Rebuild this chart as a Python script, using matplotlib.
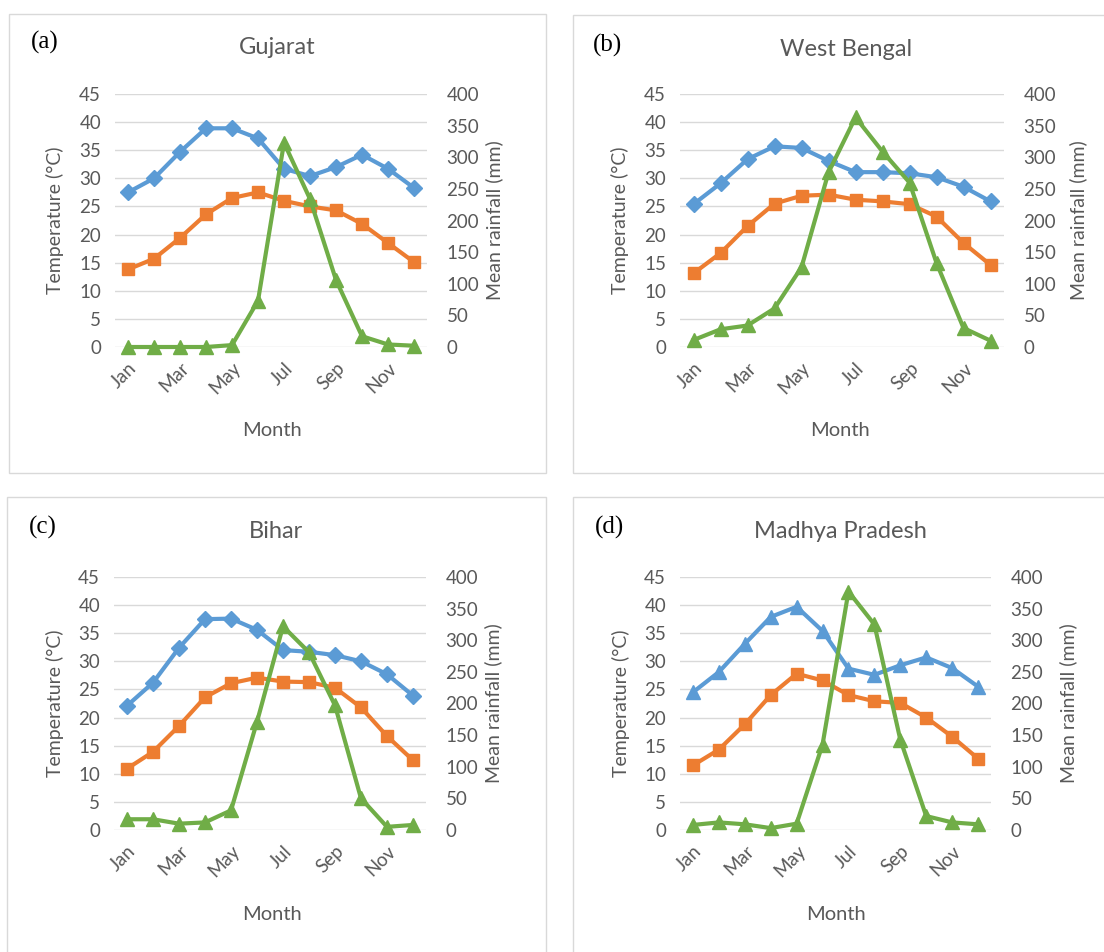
import matplotlib
matplotlib.use("Agg")
import matplotlib.pyplot as plt
from matplotlib.patches import Rectangle

plt.rcParams['font.family'] = ['Lato', 'DejaVu Sans']

months = ["Jan", "Feb", "Mar", "Apr", "May", "Jun", "Jul", "Aug", "Sep", "Oct", "Nov", "Dec"]

titles = ["Gujarat", "West Bengal", "Bihar", "Madhya Pradesh"]
panel_tags = ["(a)", "(b)", "(c)", "(d)"]

guj_max = [27.5, 30.0, 34.7, 38.9, 38.9, 37.1, 31.7, 30.4, 32.0, 34.2, 31.7, 28.3]
guj_min = [13.8, 15.7, 19.4, 23.6, 26.5, 27.5, 26.0, 25.0, 24.3, 21.9, 18.5, 15.1]
guj_rain = [0, 0, 0, 0, 3, 73, 323, 234, 106, 17, 4, 2]

wb_max = [25.4, 29.1, 33.4, 35.7, 35.4, 33.1, 31.1, 31.1, 30.9, 30.2, 28.5, 25.9]
wb_min = [13.1, 16.7, 21.5, 25.5, 26.9, 27.1, 26.2, 25.9, 25.4, 23.2, 18.5, 14.6]
wb_rain = [11, 28, 34, 61, 126, 276, 363, 309, 260, 133, 30, 10]

bih_max = [22.1, 26.2, 32.4, 37.5, 37.6, 35.6, 32.0, 31.7, 31.1, 30.0, 27.7, 23.9]
bih_min = [10.9, 13.9, 18.5, 23.6, 26.1, 27.1, 26.4, 26.3, 25.3, 21.8, 16.7, 12.4]
bih_rain = [17, 17, 10, 12, 31, 171, 322, 281, 197, 50, 5, 8]

mp_max = [24.5, 28.1, 33.1, 37.9, 39.7, 35.4, 28.7, 27.6, 29.3, 30.7, 28.8, 25.5]
mp_min = [11.5, 14.3, 18.8, 24.0, 27.8, 26.6, 24.0, 22.9, 22.6, 20.0, 16.6, 12.7]
mp_rain = [8, 12, 9, 3, 10, 135, 377, 325, 143, 22, 12, 9]

temp_ticks = [0, 5, 10, 15, 20, 25, 30, 35, 40, 45]
rain_ticks = [0, 50, 100, 150, 200, 250, 300, 350, 400]

datasets = [
    (guj_max, guj_min, guj_rain),
    (wb_max, wb_min, wb_rain),
    (bih_max, bih_min, bih_rain),
    (mp_max, mp_min, mp_rain),
]
max_markers = ["D", "D", "D", "^"]

BLUE = "#5B9BD5"
ORANGE = "#ED7D31"
GREEN = "#70AD47"
TXT = "#595959"
GRID = "#D9D9D9"

W, H = 1104, 952
fig = plt.figure(figsize=(W / 100, H / 100), dpi=100)

axes_px = [  # left, right, top, bottom of plot area
    (115, 427, 94, 347),
    (680, 1004, 94, 347),
    (114, 426, 577, 830),
    (680, 991, 577, 830),
]
boxes_px = [(9, 546, 14, 473), (573, 1110, 15, 473), (7, 546, 497, 960), (573, 1110, 497, 960)]
title_px = [(277, 48), (846, 50), (276, 532), (840, 532)]
tag_px = [(45, 42), (608, 45), (43, 527), (609, 527)]
month_px = [(272, 430), (840, 430), (272, 914), (836, 914)]
ylab_px = [(55, 220), (620, 220), (55, 703), (621, 703)]
y2lab_px = [(494, 220), (1078, 220), (493, 703), (1068, 703)]

LW = 3.0

def fx(x):
    return x / W

def fy(y):
    return 1 - y / H

for i in range(4):
    bx0, bx1, by0, by1 = boxes_px[i]
    fig.patches.append(Rectangle((fx(bx0), fy(by1)), fx(bx1 - bx0), (by1 - by0) / H,
                                 transform=fig.transFigure, fill=False,
                                 edgecolor=GRID, linewidth=1.0, zorder=0))

    l, r, t, b = axes_px[i]
    ax = fig.add_axes([fx(l), fy(b), (r - l) / W, (b - t) / H])
    tmax, tmin, rain = datasets[i]
    x = list(range(len(months)))

    ax.plot(x, tmax, color=BLUE, lw=LW, marker=max_markers[i],
            ms=8 if max_markers[i] == "D" else 10, zorder=3, clip_on=False)
    ax.plot(x, tmin, color=ORANGE, lw=LW, marker="s", ms=8.5, zorder=3, clip_on=False)
    ax.set_ylim(0, 45)
    ax.set_yticks(temp_ticks)
    ax.set_xlim(-0.5, 11.5)
    ax.set_xticks(x[::2])
    ax.set_xticklabels(months[::2], rotation=45, ha="right", rotation_mode="anchor",
                       color=TXT, fontsize=13.5)
    ax.grid(axis="y", color=GRID, lw=1.0)
    ax.set_axisbelow(True)
    ax.tick_params(axis="y", length=0, labelsize=13.5, colors=TXT, pad=10)
    ax.tick_params(axis="x", length=0, colors=TXT, pad=9)
    for s in ax.spines.values():
        s.set_visible(False)

    ax2 = ax.twinx()
    ax2.plot(x, rain, color=GREEN, lw=LW, marker="^", ms=10, zorder=4, clip_on=False)
    ax2.set_ylim(0, 400)
    ax2.set_yticks(rain_ticks)
    ax2.tick_params(axis="y", length=0, labelsize=13.5, colors=TXT, pad=14)
    for s in ax2.spines.values():
        s.set_visible(False)

    fig.text(fx(title_px[i][0]), fy(title_px[i][1]), titles[i], ha="center", va="center",
             fontsize=17, color=TXT)
    fig.text(fx(tag_px[i][0]), fy(tag_px[i][1]), panel_tags[i], ha="center", va="center",
             fontsize=18, color="black", family=["Liberation Serif", "DejaVu Serif"])
    fig.text(fx(month_px[i][0]), fy(month_px[i][1]), "Month", ha="center", va="center",
             fontsize=14.5, color=TXT)
    fig.text(fx(ylab_px[i][0]), fy(ylab_px[i][1]), "Temperature (°C)", ha="center", va="center",
             rotation=90, fontsize=14, color=TXT)
    fig.text(fx(y2lab_px[i][0]), fy(y2lab_px[i][1]), "Mean rainfall (mm)", ha="center", va="center",
             rotation=90, fontsize=14, color=TXT)

fig.savefig("out.png", dpi=100, facecolor="white")
